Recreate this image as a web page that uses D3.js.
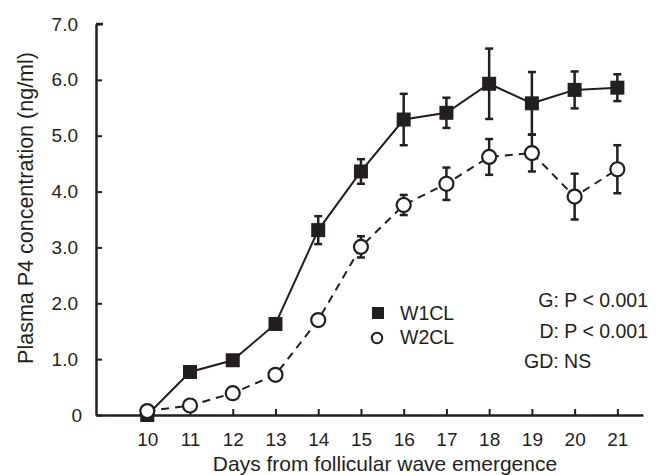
<!DOCTYPE html>
<html>
<head>
<meta charset="utf-8">
<script src="https://cdn.jsdelivr.net/npm/d3@7"></script>
<style>
  body { margin: 0; background: #fff; }
  text { font-family: "Liberation Sans", Arial, Helvetica, sans-serif; fill: #231f20; }
</style>
</head>
<body>
<div id="chart"></div>
<script>
// =================================== DATA ===================================

const days = [10, 11, 12, 13, 14, 15, 16, 17, 18, 19, 20, 21]
const w1Mean = [0.00, 0.77, 0.98, 1.63, 3.31, 4.36, 5.29, 5.41, 5.93, 5.58, 5.82, 5.86]
const w1Sem = [0.02, 0.05, 0.06, 0.06, 0.25, 0.22, 0.46, 0.27, 0.63, 0.56, 0.33, 0.24]
const w2Mean = [0.07, 0.17, 0.39, 0.72, 1.70, 3.01, 3.76, 4.14, 4.62, 4.69, 3.91, 4.40]
const w2Sem = [0.03, 0.04, 0.05, 0.06, 0.10, 0.19, 0.18, 0.29, 0.32, 0.33, 0.41, 0.43]
const yTicks = [0, 1, 2, 3, 4, 5, 6, 7]
const statLines = ['G: P < 0.001', 'D: P < 0.001', 'GD: NS']

// =================================== GRAPH SETTINGS ===================================

const width = 662
const height = 475
const ink = '#231f20'

const svg = d3.select('#chart')
  .append('svg')
  .attr('width', width)
  .attr('height', height)

const x = d3.scaleLinear().domain([8.8, 21.6]).range([96, 643])
const y = d3.scaleLinear().domain([0, 7]).range([415, 24])

// =================================== AXES ===================================

const xAxis = svg.append('g')
  .attr('transform', `translate(0,${y(0)})`)
  .call(d3.axisBottom(x).tickValues(days).tickSizeInner(-6).tickSizeOuter(0).tickPadding(18))
xAxis.select('.domain').attr('stroke', ink).attr('stroke-width', 2.5)
xAxis.selectAll('.tick line').attr('stroke', ink).attr('stroke-width', 2)
xAxis.selectAll('.tick text').attr('font-size', 19).attr('font-family', null).attr('fill', ink)

const yAxis = svg.append('g')
  .attr('transform', `translate(${x.range()[0]},0)`)
  .call(d3.axisLeft(y).tickValues(yTicks).tickSizeInner(-6).tickSizeOuter(0).tickPadding(18)
    .tickFormat(d => d === 0 ? '0' : d3.format('.1f')(d)))
yAxis.select('.domain').attr('stroke', ink).attr('stroke-width', 2.5)
yAxis.selectAll('.tick line').attr('stroke', ink).attr('stroke-width', 2)
yAxis.selectAll('.tick text').attr('font-size', 19).attr('font-family', null).attr('fill', ink)
  .attr('dx', d => d === 0 ? 4 : 0)

// short cap at the top of the y axis
svg.append('line')
  .attr('x1', x.range()[0]).attr('x2', x.range()[0] + 7)
  .attr('y1', y(7)).attr('y2', y(7))
  .attr('stroke', ink).attr('stroke-width', 2.5)

svg.append('text')
  .attr('x', 385).attr('y', 471)
  .attr('text-anchor', 'middle')
  .attr('font-size', 21)
  .text('Days from follicular wave emergence')

svg.append('text')
  .attr('transform', 'translate(33,208) rotate(-90)')
  .attr('text-anchor', 'middle')
  .attr('font-size', 21.5)
  .text('Plasma P4 concentration (ng/ml)')

// =================================== SERIES ===================================

const w1 = days.map((d, i) => ({ day: d, mean: w1Mean[i], sem: w1Sem[i] }))
const w2 = days.map((d, i) => ({ day: d, mean: w2Mean[i], sem: w2Sem[i] }))

const line = d3.line().x(d => x(d.day)).y(d => y(d.mean))

function errorBars (data) {
  const g = svg.append('g').attr('stroke', ink).attr('stroke-width', 2.5)
  g.selectAll('.bar')
    .data(data)
    .enter().append('line')
    .attr('x1', d => x(d.day)).attr('x2', d => x(d.day))
    .attr('y1', d => y(d.mean - d.sem)).attr('y2', d => y(d.mean + d.sem))
  g.selectAll('.capTop')
    .data(data)
    .enter().append('line')
    .attr('x1', d => x(d.day) - 4).attr('x2', d => x(d.day) + 4)
    .attr('y1', d => y(d.mean + d.sem)).attr('y2', d => y(d.mean + d.sem))
  g.selectAll('.capBottom')
    .data(data)
    .enter().append('line')
    .attr('x1', d => x(d.day) - 4).attr('x2', d => x(d.day) + 4)
    .attr('y1', d => y(d.mean - d.sem)).attr('y2', d => y(d.mean - d.sem))
}

// W1CL : solid line, filled squares
svg.append('path')
  .datum(w1)
  .attr('d', line)
  .attr('fill', 'none')
  .attr('stroke', ink)
  .attr('stroke-width', 2)
errorBars(w1)
svg.append('g').selectAll('rect')
  .data(w1)
  .enter().append('rect')
  .attr('x', d => x(d.day) - 7)
  .attr('y', d => y(d.mean) - 7)
  .attr('width', 14)
  .attr('height', 14)
  .attr('fill', ink)

// W2CL : dashed line, open circles
svg.append('path')
  .datum(w2)
  .attr('d', line)
  .attr('fill', 'none')
  .attr('stroke', ink)
  .attr('stroke-width', 2)
  .attr('stroke-dasharray', '8,6')
errorBars(w2)
svg.append('g').selectAll('circle')
  .data(w2)
  .enter().append('circle')
  .attr('cx', d => x(d.day))
  .attr('cy', d => y(d.mean))
  .attr('r', 7)
  .attr('fill', '#fff')
  .attr('stroke', ink)
  .attr('stroke-width', 2.2)

// =================================== LEGEND ===================================

const legend = svg.append('g').attr('transform', 'translate(378,0)')
legend.append('rect')
  .attr('x', -6).attr('y', 307).attr('width', 12).attr('height', 12)
  .attr('fill', ink)
legend.append('circle')
  .attr('cx', -1).attr('cy', 338).attr('r', 5.2)
  .attr('fill', '#fff').attr('stroke', ink).attr('stroke-width', 2)
legend.append('text').attr('x', 22).attr('y', 320).attr('font-size', 19.5).text('W1CL')
legend.append('text').attr('x', 22).attr('y', 344).attr('font-size', 19.5).text('W2CL')

svg.append('g').selectAll('text')
  .data(statLines)
  .enter().append('text')
  .attr('x', (d, i) => i < 2 ? 648 : 524)
  .attr('y', (d, i) => 307 + i * 30.5)
  .attr('text-anchor', (d, i) => i < 2 ? 'end' : 'start')
  .attr('font-size', 19.5)
  .text(d => d)
</script>
</body>
</html>
